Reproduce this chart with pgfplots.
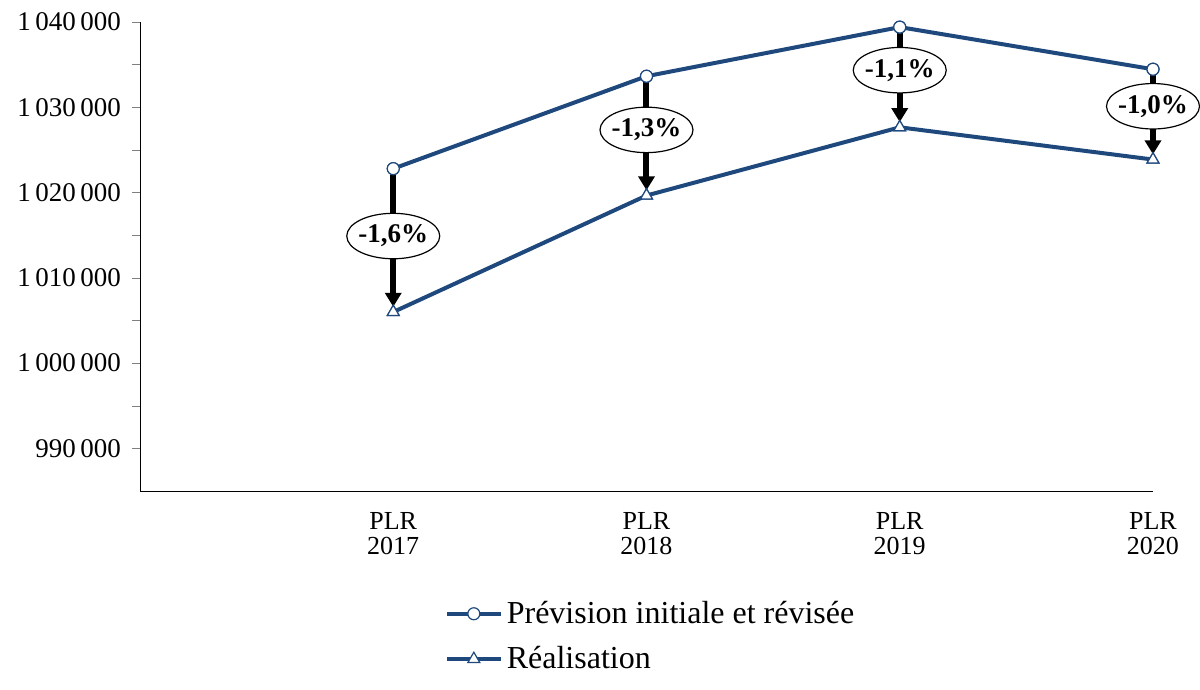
\documentclass[border=0pt]{standalone}
\usepackage{fontspec}
\setmainfont{Liberation Serif}
\usepackage{pgfplots}
\pgfplotsset{compat=1.18}
\usetikzlibrary{shapes.geometric,arrows.meta}
\definecolor{bleu}{RGB}{31,73,125}
\tikzset{lbl/.style={ellipse, draw=black, line width=0.6pt, fill=white,
   inner xsep=-1pt, inner ysep=2.5pt, font=\fontsize{13.5}{15}\selectfont\bfseries}}
\begin{document}
\begin{tikzpicture}
\useasboundingbox (-70pt,-99.5pt) rectangle (530pt,245.5pt);
\begin{axis}[
  at={(0pt,0pt)}, anchor=south west,
  scale only axis,
  width=506.5pt, height=234.5pt,
  xmin=0, xmax=4, ymin=985000, ymax=1040000,
  axis lines*=left,
  clip=false,
  xtick={1,2,3,4},
  xticklabels={PLR\\2017,PLR\\2018,PLR\\2019,PLR\\2020},
  xticklabel style={align=center, font=\fontsize{13}{12.5}\selectfont, yshift=-3pt},
  xtick style={draw=none},
  ytick={990000,1000000,1010000,1020000,1030000,1040000},
  minor y tick num=1,
  ytick pos=left,
  tick align=outside,
  major tick length=4pt, minor tick length=4pt,
  scaled y ticks=false,
  yticklabel style={font=\fontsize{13.5}{14}\selectfont, xshift=-2pt,
    /pgf/number format/.cd, fixed, precision=0, 1000 sep={\,}, assume math mode=true},
  legend style={at={(0.505,-0.31)}, anchor=center, draw=none,
    font=\fontsize{16}{18}\selectfont, row sep=6pt},
  legend cell align=left,
  legend image code/.code={\draw[mark repeat=2,mark phase=2] plot coordinates {(0pt,0pt) (13.5pt,0pt) (27pt,0pt)};},
]
\addplot[bleu, line width=2pt, mark=*, mark size=3pt,
  mark options={fill=white, draw=bleu, line width=0.6pt}]
  coordinates {(1,1022800) (2,1033640) (3,1039400) (4,1034460)};
\addlegendentry{Prévision initiale et révisée}
\addplot[bleu, line width=2pt, mark=triangle*, mark size=3.4pt,
  mark options={fill=white, draw=bleu, line width=0.6pt}]
  coordinates {(1,1005990) (2,1019650) (3,1027650) (4,1023870)};
\addlegendentry{Réalisation}

\addplot[black, line width=3pt, -{Triangle[length=7pt,width=8pt]}, shorten >=2.6pt, shorten <=3pt, forget plot]
  coordinates {(1,1022800) (1,1005990)} node[lbl, pos=0.47] {-1,6\%};
\addplot[black, line width=3pt, -{Triangle[length=7pt,width=8pt]}, shorten >=2.6pt, shorten <=3pt, forget plot]
  coordinates {(2,1033640) (2,1019650)} node[lbl, pos=0.45] {-1,3\%};
\addplot[black, line width=3pt, -{Triangle[length=7pt,width=8pt]}, shorten >=2.6pt, shorten <=3pt, forget plot]
  coordinates {(3,1039400) (3,1027650)} node[lbl, pos=0.43] {-1,1\%};
\addplot[black, line width=3pt, -{Triangle[length=7pt,width=8pt]}, shorten >=2.6pt, shorten <=3pt, forget plot]
  coordinates {(4,1034460) (4,1023870)} node[lbl, pos=0.41] {-1,0\%};

\addplot[only marks, mark=*, mark size=3pt, mark options={fill=white, draw=bleu, line width=0.6pt}, forget plot]
  coordinates {(1,1022800) (2,1033640) (3,1039400) (4,1034460)};
\addplot[only marks, mark=triangle*, mark size=3.4pt, mark options={fill=white, draw=bleu, line width=0.6pt}, forget plot]
  coordinates {(1,1005990) (2,1019650) (3,1027650) (4,1023870)};
\end{axis}
\end{tikzpicture}
\end{document}
